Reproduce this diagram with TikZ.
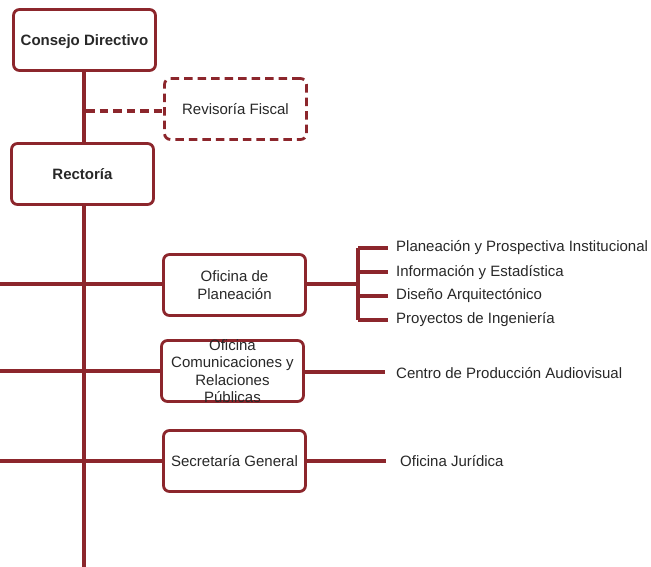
\documentclass[tikz,border=0pt]{standalone}
\usepackage{fontspec}
\setmainfont{Liberation Sans}
\definecolor{wine}{RGB}{140,38,44}
\definecolor{txt}{RGB}{40,40,40}
\begin{document}
\begin{tikzpicture}[x=1pt,y=-1pt,
  box/.style={draw=wine, line width=2.8pt, rounded corners=6pt, minimum width=142pt, minimum height=61pt, inner sep=0pt, fill=white, text=txt, font=\fontsize{15}{17.5}\selectfont, align=center},
  dbox/.style={box, dash pattern=on 8.5pt off 5pt},
  link/.style={draw=wine, line width=3.2pt},
  dlink/.style={link, dash pattern=on 8.5pt off 5pt},
  lbl/.style={inner sep=0pt, text=txt, font=\fontsize{15}{17.5}\selectfont, align=center},
  item/.style={anchor=west, inner sep=0pt, text=txt, font=\fontsize{15}{17.5}\selectfont}]
\useasboundingbox (0,0) rectangle (651,567);
\coordinate (top) at (84,72);
\coordinate (bot) at (84,567);
\coordinate (dj) at (86,111);
\coordinate (l1) at (0,284);
\coordinate (l2) at (0,371);
\coordinate (l3) at (0,461);
\coordinate (br) at (358,284);
\coordinate (bt) at (358,248);
\coordinate (bb) at (358,320);
\coordinate (e1) at (388,248);
\coordinate (e2) at (388,272);
\coordinate (e3) at (388,296);
\coordinate (e4) at (388,320);
\coordinate (e5) at (385,372);
\coordinate (e6) at (386,461);
% boxes
\node[box] (cd) at (84.5,40) {};
\node[lbl, anchor=base, font=\fontsize{15}{17.5}\selectfont\bfseries] (cdtxt) at (84.5,45.5) {Consejo Directivo};
\node[dbox] (rf) at (235.5,109) {Revisoría Fiscal};
\node[box, font=\fontsize{15}{17.5}\selectfont\bfseries] (rec) at (82.5,174) {Rectoría};
\node[box] (op) at (234.5,285) {Oficina de\\Planeación};
\node[box] (oc) at (232.5,371) {};
\node[lbl] (octxt) at (232.5,371) {Oficina\\Comunicaciones y\\Relaciones\\Públicas};
\node[box] (sg) at (234.5,461) {Secretaría General};
% right texts
\node[item] (t1) at (396,248) {Planeación y Prospectiva Institucional};
\node[item] (t2) at (396,273) {Información y Estadística};
\node[item] (t3) at (396,296) {Diseño Arquitectónico};
\node[item] (t4) at (396,320) {Proyectos de Ingeniería};
\node[item] (t5) at (396,373) {Centro de Producción Audiovisual};
\node[item] (t6) at (400,461) {Oficina Jurídica};
% connectors
\draw[link] (cd.south -| top) -- (rec.north -| top);
\draw[link] (rec.south -| top) -- (bot);
\draw[dlink] (dj) -- (rf.west |- dj);
\draw[link] (l1) -- (op.west |- l1);
\draw[link] (l2) -- (oc.west |- l2);
\draw[link] (l3) -- (sg.west);
\draw[link] (op.east |- br) -- (br);
\draw[link] (bt) -- (bb);
\draw[link] (bt) -- (e1);
\draw[link] (br |- e2) -- (e2);
\draw[link] (br |- e3) -- (e3);
\draw[link] (bb) -- (e4);
\draw[link] (oc.east |- e5) -- (e5);
\draw[link] (sg.east) -- (e6);
\end{tikzpicture}
\end{document}
